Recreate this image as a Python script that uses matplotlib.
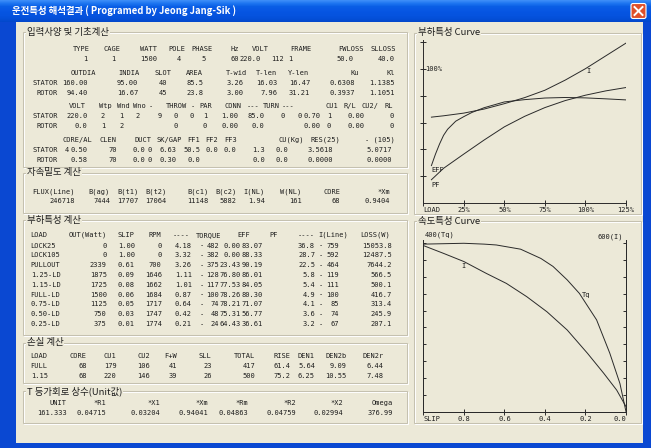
import numpy as np
import matplotlib
matplotlib.use('Agg')
import matplotlib.pyplot as plt
from matplotlib.patches import Rectangle, FancyBboxPatch
from matplotlib.colors import LinearSegmentedColormap

# ---------------- data ----------------
title = '운전특성 해석결과 ( Programed by Jeong Jang-Sik )'
box_titles = ['입력사양 및 기초계산', '자속밀도 계산', '부하특성 계산', '손실 계산',
              'T 등가회로 상수(Unit값)', '부하특성 Curve', '속도특성 Curve']

spec_hdr = ['TYPE', 'CAGE', 'WATT', 'POLE', 'PHASE', 'Hz', 'VOLT', 'FRAME', 'FWLOSS', 'SLLOSS']
spec_val = ['1', '1', '1500', '4', '5', '60', '220.0', '112', '1', '50.0', '40.0']

dim_hdr = ['OUTDIA', 'INDIA', 'SLOT', 'AREA', 'T-wid', 'T-len', 'Y-len', 'Ku', 'Kl']
dim_stator = ['160.00', '95.00', '40', '85.5', '3.26', '16.03', '16.47', '0.6308', '1.1385']
dim_rotor = ['94.40', '16.67', '45', '23.8', '3.00', '7.96', '31.21', '0.3937', '1.1051']

wind_hdr = ['VOLT', 'Wtp', 'Wnd', 'Wno', '-', 'THROW', '-', 'PAR', 'CONN', '---', 'TURN', '---',
            'CU1', 'R/L', 'CU2/', 'RL']
wind_stator = ['220.0', '2', '1', '2', '9', '0', '0', '1', '1.00', '85.0', '0', '0', '0.70', '1', '0.00', '0']
wind_rotor = ['0.0', '1', '2', '0', '0', '0.00', '0.0', '0.00', '0', '0.00', '0']

core_hdr = ['CORE/AL', 'CLEN', 'DUCT', 'SK/GAP', 'FF1', 'FF2', 'FF3', 'CU(Kg)', 'RES(25)', '- (105)']
core_stator = ['4', '0.50', '70', '0.0', '0', '6.63', '50.5', '0.0', '0.0', '1.3', '0.0', '3.5618', '5.0717']
core_rotor = ['0.58', '70', '0.0', '0', '0.30', '0.0', '0.0', '0.0', '0.0000', '0.0000']

flux_hdr = ['FLUX(Line)', 'B(ag)', 'B(t1)', 'B(t2)', 'B(c1)', 'B(c2)', 'I(NL)', 'W(NL)', 'CORE', '*Xm']
flux_val = ['246718', '7444', '17707', '17064', '11148', '5882', '1.94', '161', '68', '0.9404']

load_hdr = ['OUT(Watt)', 'SLIP', 'RPM', '----', 'TORQUE', 'EFF', 'PF', '----', 'I(Line)', 'LOSS(W)']
load_names = ['LOCK25', 'LOCK105', 'PULLOUT', '1.25-LD', '1.15-LD', 'FULL-LD', '0.75-LD', '0.50-LD', '0.25-LD']
load_out = ['0', '0', '2339', '1875', '1725', '1500', '1125', '750', '375']
load_slip = ['1.00', '1.00', '0.61', '0.09', '0.08', '0.06', '0.05', '0.03', '0.01']
load_rpm = ['0', '0', '700', '1646', '1662', '1684', '1717', '1747', '1774']
load_tq = ['4.18', '3.32', '3.26', '1.11', '1.01', '0.87', '0.64', '0.42', '0.21']
load_tq_pct = ['482', '382', '375', '128', '117', '100', '74', '48', '24']
load_eff = ['0.00', '0.00', '23.43', '76.80', '77.53', '78.26', '78.21', '75.31', '64.43']
load_pf = ['83.07', '88.33', '90.19', '86.01', '84.05', '80.30', '71.07', '56.77', '36.61']
load_i = ['36.8', '28.7', '22.5', '5.8', '5.4', '4.9', '4.1', '3.6', '3.2']
load_i_pct = ['759', '592', '464', '119', '111', '100', '85', '74', '67']
load_loss = ['15053.8', '12487.5', '7644.2', '566.5', '500.1', '416.7', '313.4', '245.9', '207.1']

loss_hdr = ['CORE', 'CU1', 'CU2', 'F+W', 'SLL', 'TOTAL', 'RISE', 'DEN1', 'DEN2b', 'DEN2r']
loss_names = ['FULL', '1.15']
loss_rows = [['68', '179', '106', '41', '23', '417', '61.4', '5.64', '9.09', '6.44'],
             ['68', '220', '146', '39', '26', '500', '75.2', '6.25', '10.55', '7.48']]

eq_hdr = ['UNIT', '*R1', '*X1', '*Xm', '*Rm', '*R2', '*X2', 'Omega']
eq_val = ['161.333', '0.04715', '0.03204', '0.94041', '0.04863', '0.04759', '0.02994', '376.99']

# load curve (x = % load)
cur_load = [5, 12.5, 25, 37.5, 50, 62.5, 75, 87.5, 100, 112.5, 125]
cur_pct = [64, 65, 67, 70, 74, 78.5, 84, 91.5, 100, 109.5, 119]
eff_load = [5, 7.5, 10, 12.5, 15, 20, 25, 30, 37.5, 50, 62.5, 75, 87.5, 100, 112.5, 125]
eff_pct = [28, 36.5, 44, 50.5, 55, 61, 64.4, 67.5, 71, 75.3, 77, 78.2, 78.6, 78.3, 77.6, 76.8]
pf_load = [5, 12.5, 25, 37.5, 50, 62.5, 75, 87.5, 100, 112.5, 125]
pf_pct = [17.5, 26, 36.6, 47, 56.8, 64.6, 71.1, 76.3, 80.3, 83.5, 86.0]
load_ticks = [0, 25, 50, 75, 100, 125]
load_tick_labels = ['LOAD', '25%', '50%', '75%', '100%', '125%']

# speed curve (x = slip)
tq_slip = [1.0, 0.9, 0.8, 0.7, 0.64, 0.52, 0.42, 0.36, 0.29, 0.23, 0.145, 0.08, 0.03, 0.0]
tq_pct = [398, 399, 400, 398, 396, 386, 364, 345, 313, 281, 218, 139, 67, 0]
i_slip = [1.0, 0.9, 0.8, 0.69, 0.59, 0.49, 0.39, 0.29, 0.19, 0.11, 0.046, 0.0]
i_pct = [592, 564, 535, 493, 457, 410, 356, 291, 208, 137, 77, 18]
slip_ticks = [1.0, 0.8, 0.6, 0.4, 0.2, 0.0]
slip_tick_labels = ['SLIP', '0.8', '0.6', '0.4', '0.2', '0.0']

# ---------------- style ----------------
W, H = 651, 448
BG = '#ECE9D8'
INK = '#1e1e1e'
LINE = '#2a2a2a'
FRAME = '#0A48D2'
KR = 'Noto Sans CJK KR'
MONO, FS = 'DejaVu Sans Mono', 5.0

fig = plt.figure(figsize=(W / 100, H / 100), dpi=100)
fig.patch.set_facecolor(BG)
base = fig.add_axes([0, 0, 1, 1])
base.axis('off')

# window frame + title bar
base.add_patch(Rectangle((0, 0), 16, H, color=FRAME, lw=0))
base.add_patch(Rectangle((643, 0), 8, H, color=FRAME, lw=0))
base.add_patch(Rectangle((0, 443), W, 5, color=FRAME, lw=0))
title_cmap = LinearSegmentedColormap.from_list(
    'xp', ['#3C8DF8', '#1C74F0', '#0A5FE6', '#0858E4', '#0655E2', '#0553DF', '#0450D9', '#0348CC'])
base.imshow(np.linspace(0, 1, 22).reshape(-1, 1), cmap=title_cmap, extent=[0, W, 22, 0],
            aspect='auto', interpolation='bilinear', zorder=1)
base.set_xlim(0, W)
base.set_ylim(H, 0)
base.text(12.5, 11, title, color='white', fontsize=6.8, fontweight='bold',
          family=[KR, 'DejaVu Sans'], va='center', ha='left', zorder=3)
base.add_patch(FancyBboxPatch((631, 3.5), 15, 15, boxstyle='round,pad=0,rounding_size=2',
                              facecolor='#E0502A', edgecolor='white', lw=0.8, zorder=3))
base.plot([634.5, 642.5], [7, 15], color='white', lw=1.4, zorder=4)
base.plot([634.5, 642.5], [15, 7], color='white', lw=1.4, zorder=4)


def group_box(x0, y0, x1, y1, label):
    base.add_patch(Rectangle((x0 + 1, y0 + 1), x1 - x0, y1 - y0, fill=False, edgecolor='white', lw=0.75))
    base.add_patch(Rectangle((x0, y0), x1 - x0, y1 - y0, fill=False, edgecolor='#C5C1B0', lw=0.75))
    base.text(x0 + 4, y0, label, fontsize=6.8, family=[KR, 'DejaVu Sans'], color=INK, va='center',
              ha='left', bbox=dict(facecolor=BG, edgecolor='none', pad=0.6))


boxes = [(23, 32, 406.5, 167), (23, 173, 406.5, 213), (23, 220, 406.5, 335), (23, 343, 406.5, 383),
         (23, 391, 406.5, 423), (414, 33, 640.5, 214), (414, 221.5, 640.5, 423)]
for b, lab in zip(boxes, box_titles):
    group_box(*b, lab)


def put(x, y, s, ha='right'):
    base.text(x, y, s, ha=ha, va='center', fontsize=FS, family=MONO, color=INK)


def row(y, tokens, xs, label=None):
    if label:
        put(57.7, y, label)
    for t, x in zip(tokens, xs):
        put(x, y, t)


# block 1
row(49, spec_hdr, [90, 120, 156.7, 185, 213, 239.3, 268.3, 311.7, 363.3, 396])
row(59, spec_val, [87, 115.5, 156.7, 180.5, 205.5, 239.3, 260.5, 284, 292, 353.3, 395])
dim_x = [87.7, 138.3, 166.7, 203.3, 243.3, 277.3, 310, 355, 395]
row(73, dim_hdr, [96, 140, 171.7, 203.3, 246.7, 277.3, 309.3, 359.3, 395])
row(83, dim_stator, dim_x, 'STATOR')
row(93, dim_rotor, dim_x, 'ROTOR')
row(106, wind_hdr, [86, 112, 130, 146, 153, 186.7, 195, 211.7, 241.7, 260, 280, 295, 338.3, 356, 378.3, 393.3])
row(116, wind_stator, [87.7, 105, 123.5, 140, 162, 177.5, 193.5, 207, 238, 264, 285, 301.5, 321, 331, 365, 393.5],
    'STATOR')
row(126, wind_rotor, [87.7, 105, 123.5, 177.5, 207, 238, 264, 321, 331, 365, 393.5], 'ROTOR')
row(140, core_hdr, [92.7, 116.7, 151.7, 181.7, 200, 218.3, 236.7, 304, 340, 395])
row(150, core_stator, [69, 87.7, 116.7, 145, 152, 176.7, 200, 218.3, 236.7, 265, 288.3, 332.7, 391.7], 'STATOR')
row(160, core_rotor, [87.7, 116.7, 145, 152, 176.7, 200, 265, 288.3, 332.7, 391.7], 'ROTOR')

# block 2
flux_x = [75, 110, 138.3, 166.7, 208.5, 236.7, 265, 301.7, 340, 390]
row(192, flux_hdr, flux_x)
row(201, flux_val, flux_x)

# block 3
put(30.7, 235, 'LOAD', ha='left')
row(235, load_hdr, [106.7, 135, 161.7, 190, 221.7, 250, 278.3, 315, 348.3, 390])
cols = [load_out, load_slip, load_rpm, load_tq, load_tq_pct, load_eff, load_pf, load_i, load_i_pct, load_loss]
cols_x = [106.7, 135, 161.7, 191.7, 219.3, 240.5, 263, 315, 339.3, 391.7]
for i, name in enumerate(load_names):
    y = 245.6 + i * 9.8
    put(30.7, y, name, ha='left')
    row(y, [c[i] for c in cols], cols_x)
    put(202, y, '-', ha='center')
    put(320.8, y, '-', ha='center')

# block 4
loss_x = [86.7, 116.7, 150, 176.7, 211.7, 255, 290, 315, 346.7, 383.3]
put(30.7, 356, 'LOAD', ha='left')
row(356, loss_hdr, loss_x)
for i, name in enumerate(loss_names):
    put(30.7, 366 + i * 10, name, ha='left')
    row(366 + i * 10, loss_rows[i], loss_x)

# block 5
eq_x = [66.7, 106.7, 160, 208, 248.3, 296.7, 343.3, 393.3]
row(403, eq_hdr, eq_x)
row(413, eq_val, eq_x)


# ---------------- curves ----------------
def px_rect(x0, y0, x1, y1):
    return [x0 / W, 1 - y1 / H, (x1 - x0) / W, (y1 - y0) / H]


ax1 = fig.add_axes(px_rect(423.3, 40, 626, 203.3))
ax1.patch.set_alpha(0)
ax1.plot(cur_load, cur_pct, color=LINE, lw=0.7)
ax1.plot(eff_load, eff_pct, color=LINE, lw=0.7)
ax1.plot(pf_load, pf_pct, color=LINE, lw=0.7)
ax1.set_xlim(0, 125)
ax1.set_ylim(0, 121.3)
for s in ['top', 'right']:
    ax1.spines[s].set_visible(False)
for s in ['left', 'bottom']:
    ax1.spines[s].set_color(LINE)
    ax1.spines[s].set_linewidth(0.7)
ax1.set_yticks([20, 40, 60, 80, 100, 120])
ax1.set_yticklabels([])
ax1.set_xticks(load_ticks)
ax1.set_xticklabels(load_tick_labels)
ax1.tick_params(direction='inout', length=4.5, width=0.7, color=LINE, labelsize=FS, pad=0.5,
                labelcolor=INK)
for lab in ax1.get_xticklabels():
    lab.set_fontfamily(MONO)
ax1.get_xticklabels()[0].set_ha('left')

ax2 = fig.add_axes(px_rect(423.3, 240, 626, 411.7))
ax2.patch.set_alpha(0)
ax2.plot(tq_slip, tq_pct, color=LINE, lw=0.7)
ax2.set_xlim(1.0, 0.0)
ax2.set_ylim(0, 407.8)
ax2b = ax2.twinx()
ax2b.plot(i_slip, i_pct, color=LINE, lw=0.7)
ax2b.set_ylim(0, 611.7)
for a in [ax2, ax2b]:
    a.spines['top'].set_visible(False)
    for s in ['left', 'bottom', 'right']:
        a.spines[s].set_color(LINE)
        a.spines[s].set_linewidth(0.7)
ax2.set_yticks(np.arange(40, 401, 40))
ax2.set_yticklabels([])
ax2.tick_params(axis='y', direction='in', length=2.5, width=0.7, color=LINE)
ax2b.set_yticks(np.arange(60, 601, 60))
ax2b.set_yticklabels([])
ax2b.tick_params(axis='y', direction='in', length=2.5, width=0.7, color=LINE)
ax2.set_xticks(slip_ticks)
ax2.set_xticklabels(slip_tick_labels)
ax2.tick_params(axis='x', direction='inout', length=4.5, width=0.7, color=LINE, labelsize=FS, pad=0.5,
                labelcolor=INK)
for lab in ax2.get_xticklabels():
    lab.set_fontfamily(MONO)
ax2.get_xticklabels()[0].set_ha('left')
ax2.get_xticklabels()[-1].set_ha('right')

# curve captions
put(425, 69, '100%', ha='left')
put(586, 71, 'I', ha='left')
put(431.5, 170, 'EFF', ha='left')
put(431.5, 185, 'PF', ha='left')
put(425, 235, '400(Tq)', ha='left')
put(623.5, 237, '600(I)')
put(581.5, 295, 'Tq', ha='left')
put(461, 266, 'I', ha='left')

fig.savefig('out.png', dpi=100, facecolor=BG)
